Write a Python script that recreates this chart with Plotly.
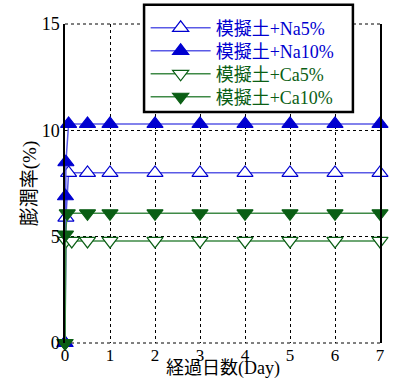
import plotly.graph_objects as go

# Swelling ratio (%) against elapsed days for each simulated-soil mixture
days_na5 = [0, 0.02, 0.08, 0.5, 1, 2, 3, 4, 5, 6, 7]
swell_na5 = [0, 5.9, 8.0, 8.0, 8.0, 8.0, 8.0, 8.0, 8.0, 8.0, 8.0]

days_na10 = [0, 0.01, 0.02, 0.08, 0.5, 1, 2, 3, 4, 5, 6, 7]
swell_na10 = [0, 6.9, 8.5, 10.3, 10.3, 10.3, 10.3, 10.3, 10.3, 10.3, 10.3, 10.3]

days_ca5 = [0, 0.02, 0.15, 0.5, 1, 2, 3, 4, 5, 6, 7]
swell_ca5 = [0, 4.8, 4.8, 4.8, 4.8, 4.8, 4.8, 4.8, 4.8, 4.8, 4.8]

days_ca10 = [0, 0.01, 0.05, 0.5, 1, 2, 3, 4, 5, 6, 7]
swell_ca10 = [0, 5.1, 6.1, 6.1, 6.1, 6.1, 6.1, 6.1, 6.1, 6.1, 6.1]

x_ticks = [0, 1, 2, 3, 4, 5, 6, 7]
y_ticks = [0, 5, 10, 15]

BLUE = "#0000d0"
BLUE_LINE = "#5a5ae6"
GREEN = "#0a5e14"
GREEN_LINE = "#3f8a47"
FONT = "Liberation Serif, Times New Roman, Noto Sans CJK JP, serif"
DASH = "3px,3px"

# (label, x, y, symbol, fill, edge colour, line colour, legend id)
series = [
    ("模擬土+Na5%", days_na5, swell_na5, "triangle-up", "white", BLUE, BLUE_LINE, "legend"),
    ("模擬土+Na10%", days_na10, swell_na10, "triangle-up", BLUE, BLUE, BLUE_LINE, "legend2"),
    ("模擬土+Ca5%", days_ca5, swell_ca5, "triangle-down", "white", GREEN, GREEN_LINE, "legend3"),
    ("模擬土+Ca10%", days_ca10, swell_ca10, "triangle-down", GREEN, GREEN, GREEN_LINE, "legend4"),
]

fig = go.Figure()
for name, xs, ys, sym, fill, edge, line_col, leg in series:
    fig.add_trace(go.Scatter(
        x=xs, y=ys, mode="lines+markers", name=name, legend=leg,
        line=dict(color=line_col, width=1.5),
        marker=dict(symbol=sym, size=14, color=fill,
                    line=dict(color=edge, width=1.2)),
        cliponaxis=False,
    ))

# dashed frame along the top and bottom edges of the plotting area
for yv in (0, 1):
    fig.add_shape(type="line", xref="paper", yref="paper", x0=0, x1=1, y0=yv, y1=yv,
                  line=dict(color="black", width=1, dash=DASH), layer="below")

# framed box holding the legend entries
fig.add_shape(type="rect", xref="paper", yref="paper",
              x0=0.251, x1=0.914, y0=0.724, y1=1.06,
              line=dict(color="black", width=2.5), fillcolor="white", layer="above")

# x-axis title at the foot of the figure
fig.add_annotation(text="経過日数(Day)", xref="paper", yref="paper", x=0.5, y=-38 / 319,
                   xanchor="center", yanchor="bottom", showarrow=False,
                   font=dict(family=FONT, size=18, color="black"))


def legend_row(top, color):
    return dict(
        x=0.256, y=top, xanchor="left", yanchor="top",
        bgcolor="rgba(0,0,0,0)", borderwidth=0,
        itemwidth=60, tracegroupgap=0,
        font=dict(family=FONT, size=18, color=color),
    )


fig.update_layout(
    width=393, height=381,
    margin=dict(l=65, r=13, t=24, b=38, autoexpand=False),
    paper_bgcolor="white", plot_bgcolor="white",
    font=dict(family=FONT, size=18, color="black"),
    showlegend=True,
    legend=legend_row(1.045, BLUE),
    legend2=legend_row(0.973, BLUE),
    legend3=legend_row(0.901, GREEN),
    legend4=legend_row(0.829, GREEN),
)
fig.update_xaxes(
    range=[0, 7], tickvals=x_ticks, ticktext=[str(v) for v in x_ticks],
    showgrid=True, gridcolor="black", griddash=DASH, gridwidth=1,
    zeroline=False, showline=False, ticks="",
    tickfont=dict(size=17), ticklabelstandoff=0,
)
fig.update_yaxes(
    range=[0, 15], tickvals=y_ticks, ticktext=[str(v) for v in y_ticks],
    showgrid=True, gridcolor="black", griddash=DASH, gridwidth=1,
    zeroline=False, showline=True, linecolor="black", linewidth=1.5, mirror=True,
    ticks="", tickfont=dict(size=18),
    title=dict(text="膨潤率(%)", font=dict(size=19), standoff=0),
)

fig.write_html("out.html")
